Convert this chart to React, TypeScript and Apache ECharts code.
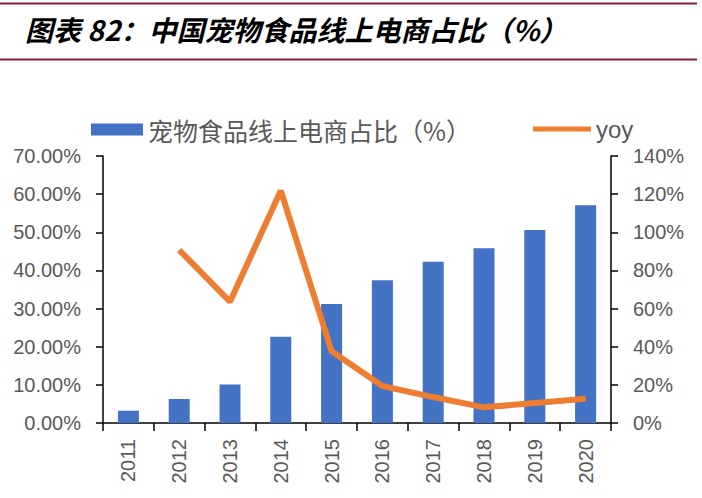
import React, { useEffect, useRef } from "react";
import * as echarts from "echarts";

const years = ["2011", "2012", "2013", "2014", "2015", "2016", "2017", "2018", "2019", "2020"];
const shareValues = [3.2, 6.3, 10.1, 22.6, 31.2, 37.4, 42.3, 45.8, 50.6, 57.1];
const yoyValues: (number | null)[] = [null, 90.7, 63.6, 121.8, 37.6, 19.4, 13.6, 8.2, 10.5, 12.7];
const leftTicks = { min: 0, max: 70, interval: 10 };
const rightTicks = { min: 0, max: 140, interval: 20 };
const barName = "宠物食品线上电商占比（%）";
const lineName = "yoy";
const titleText = "图表 82：中国宠物食品线上电商占比（%）";

const LABEL_COLOR = "#595959";
const NUM_FONT = "Liberation Sans";
const CJK_FONT = "Noto Sans CJK SC";

export default function App() {
  const ref = useRef<HTMLDivElement>(null);
  useEffect(() => {
    if (!ref.current) return;
    const chart = echarts.init(ref.current, null, { renderer: "svg" });
    chart.setOption({
      animation: false,
      backgroundColor: "#ffffff",
      title: {
        text: titleText,
        left: 20,
        top: 10,
        textStyle: {
          fontFamily: CJK_FONT,
          fontSize: 28,
          fontStyle: "italic",
          fontWeight: "bold",
          color: "#000000",
        },
      },
      graphic: [
        { type: "line", shape: { x1: 0, y1: 3.5, x2: 697, y2: 3.5 }, style: { stroke: "#8B1C3C", lineWidth: 2 } },
        { type: "line", shape: { x1: 0, y1: 59.5, x2: 697, y2: 59.5 }, style: { stroke: "#8B1C3C", lineWidth: 2 } },
      ],
      legend: [
        {
          data: [{ name: barName, icon: "rect" }],
          left: 86,
          top: 112,
          itemWidth: 52,
          itemHeight: 12,
          itemGap: 10,
          textStyle: { fontFamily: CJK_FONT, fontSize: 25, color: LABEL_COLOR },
        },
        {
          data: [{ name: lineName, icon: "rect" }],
          left: 528,
          top: 112,
          itemWidth: 58,
          itemHeight: 5,
          textStyle: { fontFamily: NUM_FONT, fontSize: 24, color: LABEL_COLOR },
        },
      ],
      grid: { left: 103, right: 91, top: 156, bottom: 75 },
      xAxis: {
        type: "category",
        data: years,
        boundaryGap: true,
        axisLine: { show: true, lineStyle: { color: "#000000", width: 1.5 } },
        axisTick: { show: true, length: 8, alignWithLabel: false, lineStyle: { color: "#000000", width: 1.5 } },
        axisLabel: {
          rotate: 90,
          fontSize: 20,
          fontFamily: NUM_FONT,
          color: LABEL_COLOR,
          margin: 16,
          interval: 0,
        },
      },
      yAxis: [
        {
          type: "value",
          min: leftTicks.min,
          max: leftTicks.max,
          interval: leftTicks.interval,
          splitLine: { show: false },
          axisLine: { show: true, lineStyle: { color: "#000000", width: 1.5 } },
          axisTick: { show: true, length: 7, lineStyle: { color: "#000000", width: 1.5 } },
          axisLabel: {
            fontSize: 20,
            fontFamily: NUM_FONT,
            color: LABEL_COLOR,
            margin: 22,
            formatter: (v: number) => v.toFixed(2) + "%",
          },
        },
        {
          type: "value",
          min: rightTicks.min,
          max: rightTicks.max,
          interval: rightTicks.interval,
          position: "right",
          splitLine: { show: false },
          axisLine: { show: true, lineStyle: { color: "#000000", width: 1.5 } },
          axisTick: { show: true, length: 7, lineStyle: { color: "#000000", width: 1.5 } },
          axisLabel: {
            fontSize: 20,
            fontFamily: NUM_FONT,
            color: LABEL_COLOR,
            margin: 22,
            formatter: (v: number) => v + "%",
          },
        },
      ],
      series: [
        {
          name: barName,
          type: "bar",
          data: shareValues,
          yAxisIndex: 0,
          barWidth: 21,
          itemStyle: { color: "#4472C4" },
        },
        {
          name: lineName,
          type: "line",
          data: yoyValues,
          yAxisIndex: 1,
          showSymbol: false,
          symbol: "none",
          connectNulls: false,
          lineStyle: { color: "#ED7D31", width: 6 },
          itemStyle: { color: "#ED7D31" },
        },
      ],
    });
    return () => chart.dispose();
  }, []);
  return (
    <div
      ref={ref}
      style={{ position: "absolute", left: 0, top: 0, width: 702, height: 498 }}
    />
  );
}
